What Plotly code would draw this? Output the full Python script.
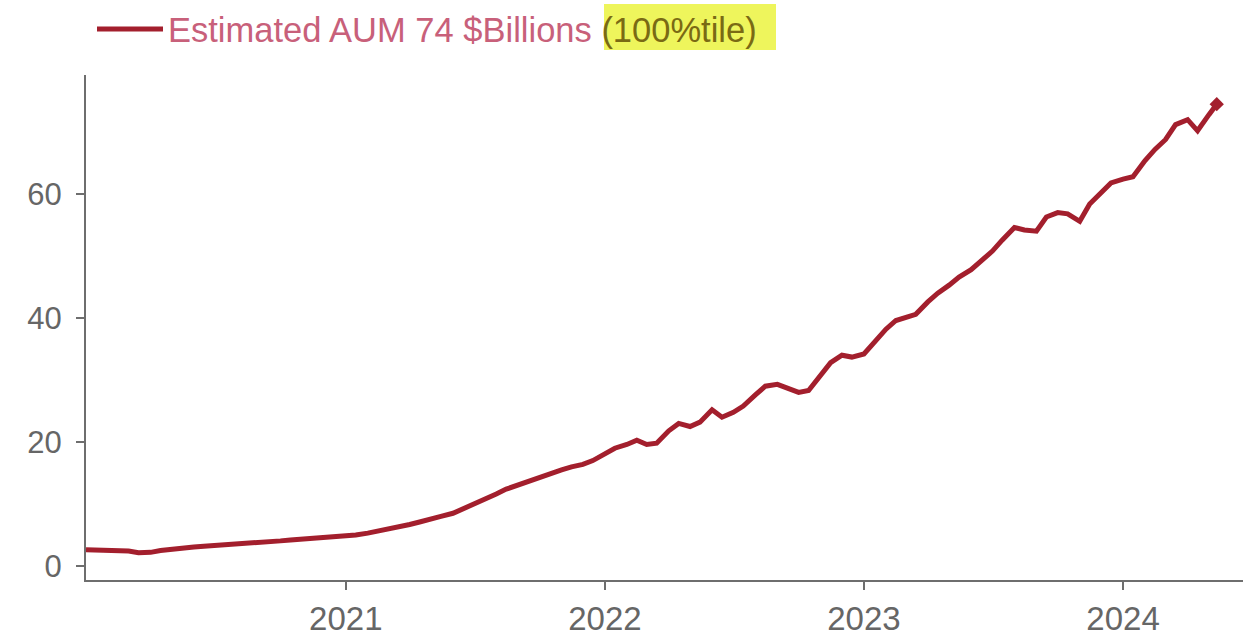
import plotly.graph_objects as go

dates = [
    "2020-01-01", "2020-01-15", "2020-02-01", "2020-02-15", "2020-03-01", "2020-03-15",
    "2020-04-01", "2020-04-15", "2020-05-01", "2020-05-15", "2020-06-01", "2020-06-15",
    "2020-07-01", "2020-07-15", "2020-08-01", "2020-08-15", "2020-09-01", "2020-09-15",
    "2020-10-01", "2020-10-15", "2020-11-01", "2020-11-15", "2020-12-01", "2020-12-15",
    "2021-01-01", "2021-01-15", "2021-02-01", "2021-02-15", "2021-03-01", "2021-03-15",
    "2021-04-01", "2021-04-15", "2021-05-01", "2021-05-15", "2021-06-01", "2021-06-15",
    "2021-07-01", "2021-07-15", "2021-08-01", "2021-08-15", "2021-09-01", "2021-09-15",
    "2021-10-01", "2021-10-15", "2021-11-01", "2021-11-15", "2021-12-01", "2021-12-15",
    "2022-01-01", "2022-01-15", "2022-02-01", "2022-02-15", "2022-03-01", "2022-03-15",
    "2022-04-01", "2022-04-15", "2022-05-01", "2022-05-15", "2022-06-01", "2022-06-15",
    "2022-07-01", "2022-07-15", "2022-08-01", "2022-08-15", "2022-09-01", "2022-09-15",
    "2022-10-01", "2022-10-15", "2022-11-01", "2022-11-15", "2022-12-01", "2022-12-15",
    "2023-01-01", "2023-01-15", "2023-02-01", "2023-02-15", "2023-03-01", "2023-03-15",
    "2023-04-01", "2023-04-15", "2023-05-01", "2023-05-15", "2023-06-01", "2023-06-15",
    "2023-07-01", "2023-07-15", "2023-08-01", "2023-08-15", "2023-09-01", "2023-09-15",
    "2023-10-01", "2023-10-15", "2023-11-01", "2023-11-15", "2023-12-01", "2023-12-15",
    "2024-01-01", "2024-01-15", "2024-02-01", "2024-02-15", "2024-03-01", "2024-03-15",
    "2024-04-01", "2024-04-15", "2024-05-01", "2024-05-12",
]

aum_billions = [
    2.6, 2.6, 2.6, 2.6, 2.4, 2.15,
    2.2, 2.5, 2.75, 2.9, 3.05, 3.2,
    3.3, 3.4, 3.55, 3.7, 3.8, 3.95,
    4.05, 4.2, 4.35, 4.5, 4.6, 4.7,
    4.8, 5.0, 5.3, 5.6, 5.9, 6.3,
    6.7, 7.1, 7.5, 8.0, 8.5, 9.2,
    9.9, 10.7, 11.6, 12.4, 13.1, 13.6,
    14.4, 15.0, 15.5, 16.0, 16.4, 17.0,
    18.2, 19.0, 19.6, 20.3, 19.6, 19.8,
    21.8, 23.0, 22.5, 23.2, 25.2, 24.0,
    24.8, 25.8, 27.6, 29.0, 29.3, 28.6,
    28.0, 28.3, 30.8, 32.8, 34.0, 33.7,
    34.2, 36.0, 38.2, 39.6, 40.0, 40.6,
    42.6, 44.0, 45.3, 46.6, 47.8, 49.2,
    50.8, 52.6, 54.6, 54.2, 54.0, 56.3,
    57.0, 56.8, 55.6, 58.4, 60.2, 61.8,
    62.4, 62.8, 65.4, 67.2, 68.8, 71.2,
    72.0, 70.2, 72.8, 74.5,
]

year_ticks = ["2021-01-01", "2022-01-01", "2023-01-01", "2024-01-01"]
year_labels = ["2021", "2022", "2023", "2024"]
y_ticks = [0, 20, 40, 60]

series_name = ('<span style="color:#c8607a">Estimated AUM 74 $Billions</span> '
               '<span style="color:#7a6a14">(100%tile)</span>')

LINE_COLOR = "#a31f2d"
AXIS_COLOR = "#6e6e6e"
FONT_FAMILY = "Liberation Sans, Arial, sans-serif"

fig = go.Figure()
fig.add_trace(go.Scatter(
    x=dates, y=aum_billions, mode="lines", name=series_name,
    line=dict(color=LINE_COLOR, width=5),
    showlegend=True,
))
fig.add_trace(go.Scatter(
    x=dates[-1:], y=aum_billions[-1:], mode="markers",
    marker=dict(symbol="diamond", size=11, color=LINE_COLOR),
    showlegend=False, hoverinfo="skip",
))

fig.update_layout(
    width=1243, height=638,
    margin=dict(l=86, r=0, t=75, b=58),
    paper_bgcolor="white", plot_bgcolor="white",
    showlegend=True,
    legend=dict(
        orientation="h", x=92 / 1243, xanchor="left", y=1.0, yanchor="top",
        yref="container", xref="container",
        font=dict(family=FONT_FAMILY, size=34.5),
        bgcolor="rgba(0,0,0,0)", itemwidth=66,
    ),
    xaxis=dict(
        range=["2020-01-01", "2024-06-18"],
        tickvals=year_ticks, ticktext=year_labels,
        showline=True, linecolor=AXIS_COLOR, linewidth=2,
        ticks="outside", ticklen=8, tickcolor=AXIS_COLOR, tickwidth=1.5,
        showgrid=False, zeroline=False,
        tickfont=dict(family=FONT_FAMILY, size=33, color="#666666"),
    ),
    yaxis=dict(
        range=[-2.26, 79.2],
        tickvals=y_ticks,
        showline=True, linecolor=AXIS_COLOR, linewidth=2,
        ticks="outside", ticklen=8, tickcolor=AXIS_COLOR, tickwidth=1.5,
        ticklabelstandoff=8,
        showgrid=False, zeroline=False,
        tickfont=dict(family=FONT_FAMILY, size=31, color="#666666"),
    ),
    shapes=[dict(
        type="rect", xref="paper", yref="paper", layer="below",
        x0=(604 - 86) / 1157, x1=(776 - 86) / 1157,
        y0=(580 - 50) / 505, y1=(580 - 4) / 505,
        fillcolor="#eef55c", line=dict(width=0),
    )],
)

fig.write_html("out.html", config={"displayModeBar": False},
               post_script="document.body.style.margin='0';")
